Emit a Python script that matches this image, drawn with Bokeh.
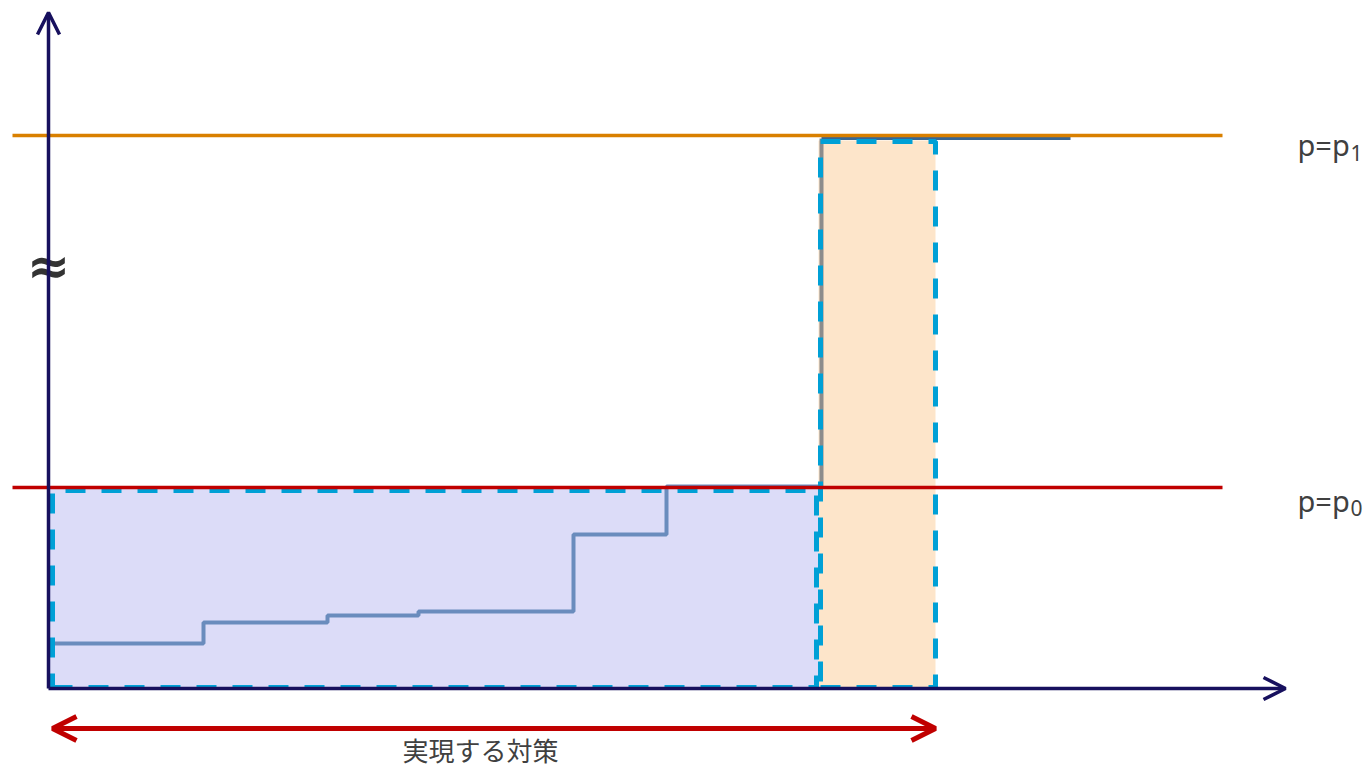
from bokeh.plotting import figure
from bokeh.models import Range1d, Arrow, OpenHead
from bokeh.core.properties import value
from bokeh.embed import file_html
from bokeh.resources import INLINE

# ---- data (chart units: x = policy quantity, y = cost) ----
step_edges = [4, 155, 279, 370, 525, 618, 773]
step_levels = [45, 66, 73, 77, 154, 202]
top_start = 773
top_end = 1022
top_level = 550
p0 = 201
p1 = 553
line_x_start = -36
line_x_end = 1174
area_lav_x = [0, 770]
area_lav_y = [0, 200]
area_peach_x = [770, 887]
area_peach_y = [0, 548]
axis_x_max = 1237
axis_y_max = 676
arrow_y = -40
arrow_x = [4, 887]
label_main = "p=p"
sub_p1 = "1"
sub_p0 = "0"
label_x = 1249
sub_x = 1302
label_bottom = "実現する対策"
label_bottom_x = 432
label_bottom_y = -61
approx_y = 423

NAVY = "#17105e"
ORANGE = "#d98000"
RED = "#c00000"
CYAN = "#00a0d6"
STEEL = "#6a8cbd"
TEXT = "#404040"

p = figure(width=1363, height=772, x_range=Range1d(-48, 1315), y_range=Range1d(-84, 688),
           output_backend="svg", toolbar_location=None, min_border=0)
p.axis.visible = False
p.grid.visible = False
p.outline_line_color = None
p.background_fill_color = "white"

# filled areas
p.quad(left=area_lav_x[0], right=area_lav_x[1], bottom=area_lav_y[0], top=area_lav_y[1],
       fill_color="#dcdcf8", line_color=None)
p.quad(left=area_peach_x[0], right=area_peach_x[1], bottom=area_peach_y[0], top=area_peach_y[1],
       fill_color="#fde5ca", line_color=None)

# step curve
p.step(step_edges, step_levels + [step_levels[-1]], mode="after", line_color=STEEL, line_width=4)
p.line([top_start, top_start], [step_levels[-1], top_level], line_color="#8c8c8c", line_width=4)
p.line([top_start, top_end], [top_level, top_level], line_color="#3b6690", line_width=3)

# dashed rectangles
def dashed_rect(x0, x1, y0, y1):
    p.line([x0, x1, x1, x0, x0], [y0, y0, y1, y1, y0], line_color=CYAN, line_width=5,
           line_dash="20 16")

dashed_rect(area_lav_x[0] + 4, area_lav_x[1] - 2, area_lav_y[0] + 1, area_lav_y[1] - 2)
dashed_rect(area_peach_x[0] + 2, area_peach_x[1], area_peach_y[0] + 1, area_peach_y[1] - 1)

# price lines
p.line([line_x_start, line_x_end], [p1, p1], line_color=ORANGE, line_width=3.5)
p.line([line_x_start, line_x_end], [p0, p0], line_color=RED, line_width=3.5)

# axes with arrows
p.add_layout(Arrow(end=OpenHead(size=22, line_color=NAVY, line_width=3.5),
                   x_start=0, y_start=0, x_end=0, y_end=axis_y_max,
                   line_color=NAVY, line_width=3.5))
p.add_layout(Arrow(end=OpenHead(size=22, line_color=NAVY, line_width=3.5),
                   x_start=0, y_start=0, x_end=axis_x_max, y_end=0,
                   line_color=NAVY, line_width=3.5))

# double arrow
p.add_layout(Arrow(start=OpenHead(size=24, line_color=RED, line_width=5),
                   end=OpenHead(size=24, line_color=RED, line_width=5),
                   x_start=arrow_x[0], y_start=arrow_y, x_end=arrow_x[1], y_end=arrow_y,
                   line_color=RED, line_width=5))

# labels
for base, sub, sub_text in [(p1 - 9, p1 - 17, sub_p1), (p0 - 13, p0 - 20, sub_p0)]:
    p.text(x=[label_x], y=[base], text=[label_main], text_font=value("Noto Sans"),
           text_font_size="29px", text_color=TEXT, text_baseline="alphabetic", text_align="left")
    p.text(x=[sub_x], y=[sub], text=[sub_text], text_font=value("Noto Sans"),
           text_font_size="21px", text_color=TEXT, text_baseline="alphabetic", text_align="left")
p.text(x=[0], y=[approx_y], text=["\u2248"], text_font=value("DejaVu Sans"),
       text_font_size="52px", text_font_style="bold", text_color="#333333",
       text_baseline="middle", text_align="center")
p.text(x=[label_bottom_x], y=[label_bottom_y], text=[label_bottom],
       text_font=value("Noto Sans CJK JP"), text_font_size="26px", text_color=TEXT,
       text_baseline="middle", text_align="center")

open("out.html", "w").write(file_html(p, INLINE))
